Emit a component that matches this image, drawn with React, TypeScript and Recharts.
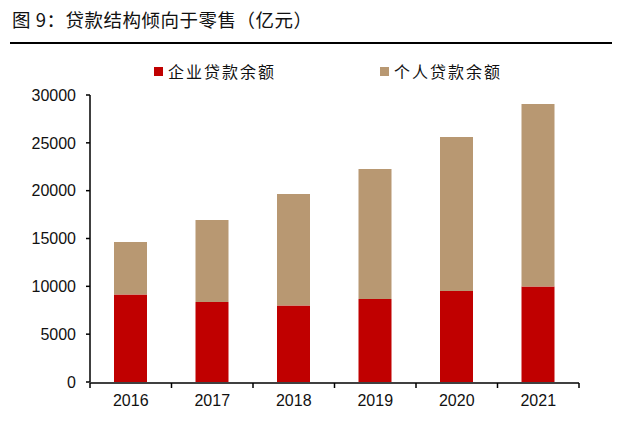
import React from 'react'
import { BarChart, Bar, XAxis, YAxis, Legend } from 'recharts'

const years = ['2016', '2017', '2018', '2019', '2020', '2021']
const corporate = [9150, 8360, 8000, 8680, 9510, 9980]
const personal = [5480, 8570, 11650, 13580, 16090, 19080]
const yTicks = [0, 5000, 10000, 15000, 20000, 25000, 30000]
const edgeTicks = [0, 1, 2, 3, 4, 5, 6]

const RED = '#C00000'
const TAN = '#B89872'
const CJK = '"Noto Sans CJK SC", "Noto Sans", sans-serif'
const NUM = '"Liberation Sans", Arial, sans-serif'

const data = years.map((y, i) => ({
  year: y,
  idx: i + 0.5,
  '企业贷款余额': corporate[i],
  '个人贷款余额': personal[i],
}))

function LegendBox() {
  const items = [
    { name: '企业贷款余额', color: RED, left: 154 },
    { name: '个人贷款余额', color: TAN, left: 380 },
  ]
  return (
    <div style={{ position: 'relative', height: 20 }}>
      {items.map((it) => (
        <div
          key={it.name}
          style={{ position: 'absolute', left: it.left, top: 0, display: 'flex', alignItems: 'center', height: 20 }}
        >
          <span style={{ width: 9, height: 9, background: it.color, display: 'inline-block', marginRight: 5 }} />
          <span style={{ fontFamily: CJK, fontSize: 16, letterSpacing: 2, color: '#111' }}>{it.name}</span>
        </div>
      ))}
    </div>
  )
}

export default function App() {
  return (
    <div style={{ position: 'absolute', left: 0, top: 0, width: 626, height: 428, background: '#fff' }}>
      <div
        style={{
          position: 'absolute', left: 12, top: 6, fontFamily: CJK, fontSize: 18.5,
          letterSpacing: 0.5, color: '#111', whiteSpace: 'nowrap',
        }}
      >
        图 9：贷款结构倾向于零售（亿元）
      </div>
      <div style={{ position: 'absolute', left: 10, top: 42, width: 602, height: 2, background: '#000' }} />
      <BarChart
        width={626}
        height={428}
        data={data}
        margin={{ top: 75, right: 47, bottom: 16, left: 0 }}
        style={{ position: 'absolute', left: 0, top: 0 }}
      >
        <Legend
          verticalAlign="top"
          wrapperStyle={{ top: 61, left: 0, width: 626 }}
          content={() => <LegendBox />}
        />
        <XAxis
          xAxisId="edge"
          type="number"
          dataKey="idx"
          domain={[0, 6]}
          ticks={edgeTicks}
          interval={0}
          tick={{ fill: 'none', fontSize: 1 }}
          height={29}
          stroke="#000"
          tickSize={5}
          tickLine={{ stroke: '#000', strokeWidth: 1.5 }}
          axisLine={{ stroke: '#000', strokeWidth: 1.5 }}
        />
        <XAxis
          xAxisId="cat"
          dataKey="year"
          height={1}
          axisLine={false}
          tickLine={false}
          tick={{ fontSize: 16, fill: '#111', fontFamily: NUM }}
          dy={5}
        />
        <YAxis
          width={90}
          domain={[0, 30000]}
          ticks={yTicks}
          interval={0}
          tickSize={4}
          tickMargin={10}
          stroke="#000"
          tickLine={{ stroke: '#000', strokeWidth: 1.5 }}
          axisLine={{ stroke: '#000', strokeWidth: 1.5 }}
          tick={{ fontSize: 16, fill: '#111', fontFamily: NUM }}
        />
        <Bar xAxisId="cat" dataKey="企业贷款余额" stackId="s" fill={RED} barSize={33} isAnimationActive={false} />
        <Bar xAxisId="cat" dataKey="个人贷款余额" stackId="s" fill={TAN} barSize={33} isAnimationActive={false} />
      </BarChart>
    </div>
  )
}
